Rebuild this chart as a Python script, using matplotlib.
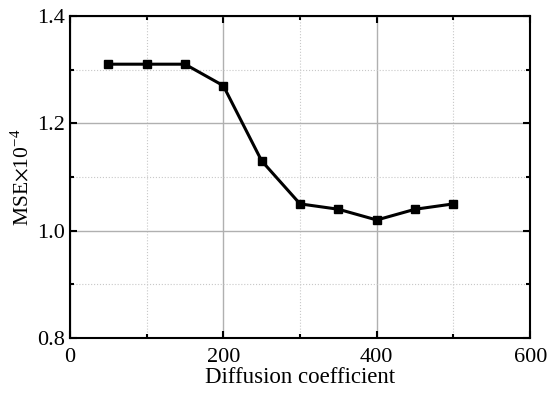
import matplotlib
matplotlib.use('Agg')
import matplotlib.pyplot as plt
from matplotlib.ticker import MultipleLocator

plt.rcParams['font.family'] = 'Liberation Serif'
plt.rcParams['mathtext.fontset'] = 'stix'

diffusion = [50, 100, 150, 200, 250, 300, 350, 400, 450, 500]
mse = [1.31, 1.31, 1.31, 1.27, 1.13, 1.05, 1.04, 1.02, 1.04, 1.05]

fig = plt.figure(figsize=(5.5, 3.96), dpi=100)
ax = fig.add_axes([0.127, 0.146, 0.837, 0.814])

ax.plot(diffusion, mse, color='black', lw=2.2, marker='s', ms=6, zorder=3)

ax.set_xlim(0, 600)
ax.set_ylim(0.8, 1.4)
ax.xaxis.set_major_locator(MultipleLocator(200))
ax.xaxis.set_minor_locator(MultipleLocator(100))
ax.yaxis.set_major_locator(MultipleLocator(0.2))
ax.yaxis.set_minor_locator(MultipleLocator(0.1))
ax.yaxis.set_major_formatter(plt.FormatStrFormatter('%.1f'))

ax.grid(which='major', color='#b0b0b0', lw=1, ls='-')
ax.grid(which='minor', color='#c8c8c8', lw=0.8, ls=':')
ax.set_axisbelow(True)

ax.tick_params(which='both', direction='in', top=True, right=True, labelsize=16, width=1.5)
ax.tick_params(axis='x', which='major', pad=7)
ax.tick_params(which='major', length=5)
ax.tick_params(which='minor', length=3)
for s in ax.spines.values():
    s.set_linewidth(1.5)

ax.set_xlabel('Diffusion coefficient', fontsize=16.5, labelpad=0)
ax.set_ylabel(r'MSE$\times$10$^{\mathregular{-4}}$', fontsize=15.5, labelpad=3)

fig.savefig('out.png', dpi=100)
